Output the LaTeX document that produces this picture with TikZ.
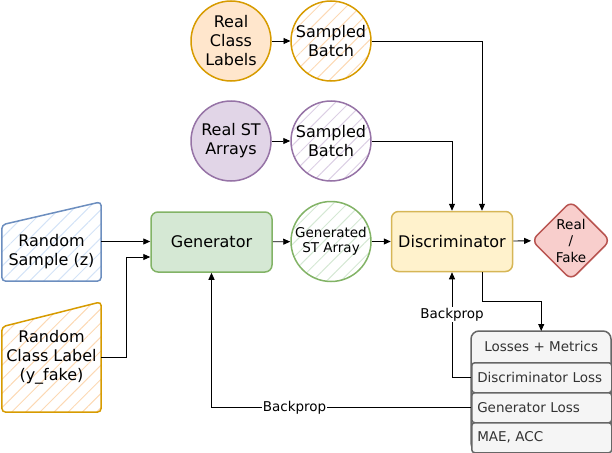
\documentclass[tikz,border=0pt]{standalone}
\usepackage{fontspec}
\setmainfont{DejaVu Sans}
\usetikzlibrary{shapes.geometric,arrows.meta,patterns.meta}
\definecolor{orgline}{HTML}{D79B00}
\definecolor{orgfill}{HTML}{FFE6CC}
\definecolor{orghatch}{HTML}{FCD9B4}
\definecolor{purline}{HTML}{9673A6}
\definecolor{purfill}{HTML}{E1D5E7}
\definecolor{purhatch}{HTML}{DCCFE4}
\definecolor{bluline}{HTML}{6C8EBF}
\definecolor{bluhatch}{HTML}{D4E3F7}
\definecolor{grnline}{HTML}{82B366}
\definecolor{grnfill}{HTML}{D5E8D4}
\definecolor{ylwline}{HTML}{D6B656}
\definecolor{ylwfill}{HTML}{FFF2CC}
\definecolor{redline}{HTML}{B85450}
\definecolor{redfill}{HTML}{F8CECC}
\definecolor{gryline}{HTML}{666666}
\definecolor{gryfill}{HTML}{F5F5F5}
\definecolor{grytext}{HTML}{333333}
\tikzset{
  ball/.style={circle, draw, line width=1.5pt, minimum size=80pt, inner sep=0pt, align=center, font=\fontsize{16}{19}\selectfont},
  block/.style={draw, rounded corners=7pt, line width=1.5pt, minimum width=121pt, minimum height=60pt, font=\fontsize{16}{19}\selectfont},
  hatch/.style={pattern={Lines[angle=45,distance=10pt,line width=1pt]}, pattern color=#1},
  inbox/.style={minimum width=99pt, inner sep=0pt},
  txt/.style={align=center, font=\fontsize{16}{19}\selectfont},
  row/.style={draw=gryline, fill=gryfill, rounded corners=3pt, line width=1.5pt, anchor=north west, minimum height=30pt, text width=129pt, inner xsep=5.5pt, align=left, text=grytext, font=\fontsize{13.5}{16}\selectfont},
  link/.style={-{Triangle[length=7pt,width=6pt]}, line width=0.9pt},
  note/.style={fill=white, inner sep=1pt, font=\fontsize{13.5}{16}\selectfont}
}
\begin{document}
\begin{tikzpicture}[x=1pt, y=-1pt]
\useasboundingbox (0,0) rectangle (612,452);

% real data
\node[ball, draw=orgline, fill=orgfill] (rcl) at (231,41) {Real\\Class\\Labels};
\node[ball, draw=orgline, hatch=orghatch] (sb1) at (331,41) {Sampled\\Batch};
\node[ball, draw=purline, fill=purfill] (rst) at (231,141) {Real ST\\Arrays};
\node[ball, draw=purline, hatch=purhatch] (sb2) at (331,141) {Sampled\\Batch};

% random inputs
\node[inbox, minimum height=79pt] (rs) at (51.5,241.5) {};
\draw[draw=bluline, hatch=bluhatch, rounded corners=4pt, line width=1.5pt] (rs.south west) -- ([yshift=-23pt]rs.north west) -- (rs.north east) -- (rs.south east) -- cycle;
\node[txt] at ([yshift=-10pt]rs.center) {Random\\Sample (z)};
\node[inbox, minimum height=110pt] (rcl2) at (51.5,357) {};
\draw[draw=orgline, hatch=orghatch, rounded corners=4pt, line width=1.5pt] (rcl2.south west) -- ([yshift=-25pt]rcl2.north west) -- (rcl2.north east) -- (rcl2.south east) -- cycle;
\node[txt] at (rcl2.center) {Random\\Class Label\\(y\_fake)};

% main chain
\node[block, draw=grnline, fill=grnfill] (gen) at (211.5,242) {Generator};
\node[ball, draw=grnline, hatch=grnfill, font=\fontsize{13.5}{15}\selectfont] (gst) at (331,241.5) {Generated\\ST Array};
\node[block, draw=ylwline, fill=ylwfill] (dis) at (452,241.5) {Discriminator};
\node[diamond, draw=redline, fill=redfill, line width=1.5pt, rounded corners=7pt, minimum width=79pt, minimum height=79pt, inner sep=0pt, align=center, font=\fontsize{13.5}{16.5}\selectfont] (rf) at (571,240.5) {Real\\/\\Fake};

% losses table
\draw[draw=gryline, fill=gryfill, rounded corners=8pt, line width=1.5pt] (471,331) rectangle (611,451);
\node[text=grytext, font=\fontsize{13.5}{16}\selectfont, minimum width=140pt, minimum height=31pt, anchor=north west] (hdr) at (471,331) {Losses + Metrics};
\node[row] (dloss) at (471,362) {Discriminator Loss};
\node[row] (gloss) at (471,392) {Generator Loss};
\node[row] (mae) at (471,422) {MAE, ACC};

% connectors
\draw[link] (rcl) -- (sb1);
\draw[link] (rst) -- (sb2);
\draw[link] (sb1.east) -| ([xshift=30pt]dis.north);
\draw[link] (sb2.east) -| (dis.north);
\draw[link] (rs.east) -- (rs.east -| gen.west);
\draw[link] (rcl2.east) -- ++(25,0) |- ([yshift=-15pt]gen.west);
\draw[link] (gen) -- (gst);
\draw[link] (gst) -- (dis);
\draw[link] (dis) -- (rf);
\draw[link] ([xshift=30pt]dis.south) -- ++(0,29) -| (hdr.north);
\draw[link] (dloss.west) -| node[note, pos=0.8] {Backprop} (dis.south);
\draw[link] (gloss.west) -| node[note, pos=0.34] {Backprop} (gen.south);
\end{tikzpicture}
\end{document}
